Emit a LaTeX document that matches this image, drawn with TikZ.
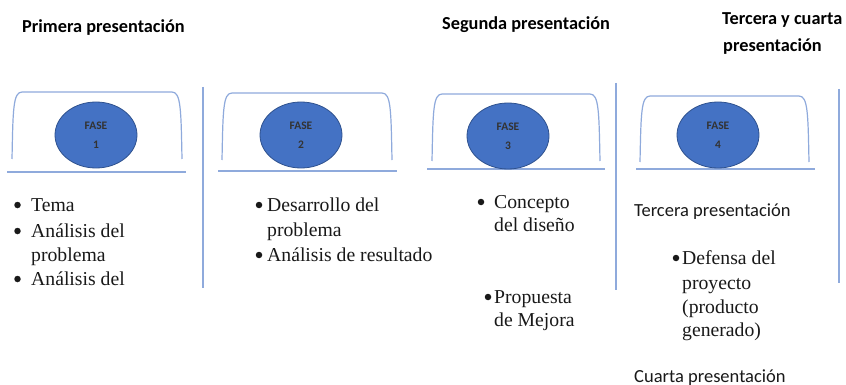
\documentclass[tikz,border=0pt]{standalone}
\usepackage{fontspec}
\usetikzlibrary{shapes.geometric}
\setmainfont{Liberation Serif}
\newfontfamily\calfont{Carlito}
\definecolor{brk}{RGB}{143,170,220}
\definecolor{efill}{RGB}{68,114,196}
\definecolor{edraw}{RGB}{47,82,143}
\definecolor{txt}{RGB}{25,25,25}
\begin{document}
\begin{tikzpicture}[x=1pt,y=-1pt,
  ttl/.style={anchor=base west,inner sep=0pt,font=\calfont\bfseries\fontsize{18.3}{20}\selectfont,text=black},
  sub/.style={anchor=base west,inner sep=0pt,font=\calfont\fontsize{18.5}{21}\selectfont,text=txt},
  itm/.style={anchor=base west,inner sep=0pt,font=\fontsize{19.7}{23}\selectfont,text=txt},
  bul/.style={circle,fill=txt,inner sep=0pt,minimum size=6.5pt},
  fase/.style={ellipse,draw=edraw,line width=0.8pt,fill=efill,minimum width=82pt,minimum height=66pt,inner sep=0pt,align=center,font=\calfont\bfseries\fontsize{11.5}{19}\selectfont,text=black!80},
  brkline/.style={draw=brk,line width=1.2pt},
]
\useasboundingbox (0,0) rectangle (846,385);
\fill[white] (0,0) rectangle (846,385);
% titles
\node[ttl] (t1) at (22,33) {Primera presentación};
\node[ttl] (t2) at (442,30) {Segunda presentación};
\node[ttl] (t3) at (722,25) {Tercera y cuarta};
\node[ttl] (t3b) at (723,52) {presentación};
% separators
\draw[brkline] (203,87) -- (203,288);
\draw[brkline] (616,83) -- (616,290);
\draw[brkline] (839,89) -- (839,283);
% brackets
\draw[brkline] (12,159) .. controls (13,110) and (13,92) .. (22,92) -- (172,92) .. controls (181,92) and (181,110) .. (182,159);
\draw[brkline] (7,172) -- (186,172);
\draw[brkline] (222,160) .. controls (223,110) and (223,93) .. (232,93) -- (382,93) .. controls (391,93) and (391,110) .. (392,160);
\draw[brkline] (218,171) -- (397,171);
\draw[brkline] (432,161) .. controls (433,112) and (433,94) .. (442,94) -- (590,94) .. controls (599,94) and (599,112) .. (600,161);
\draw[brkline] (427,169) -- (605,169);
\draw[brkline] (640,162) .. controls (641,114) and (641,96) .. (650,96) -- (799,96) .. controls (808,96) and (808,114) .. (809,162);
\draw[brkline] (636,169) -- (815,169);
% ellipses
\node[fase] (f1) at (96,135) {FASE\\1};
\node[fase] (f2) at (301,135) {FASE\\2};
\node[fase] (f3) at (508,136) {FASE\\3};
\node[fase] (f4) at (718,135) {FASE\\4};
% panel 1
\node[bul] (b1a) at (17.5,205) {};
\node[itm] (p1a) at (31,211) {Tema};
\node[bul] (b1b) at (17.5,231) {};
\node[itm] (p1b) at (31,237) {Análisis del};
\node[itm] (p1c) at (31,261) {problema};
\node[bul] (b1c) at (17.5,279) {};
\node[itm] (p1d) at (31,285) {Análisis del};
% panel 2
\node[bul] (b2a) at (259,205) {};
\node[itm] (p2a) at (267,211) {Desarrollo del};
\node[itm] (p2b) at (267,236) {problema};
\node[bul] (b2b) at (259,255) {};
\node[itm] (p2c) at (267,261) {Análisis de resultado};
% panel 3
\node[bul] (b3a) at (481,202) {};
\node[itm] (p3a) at (494,208) {Concepto};
\node[itm] (p3b) at (494,231) {del diseño};
\node[bul] (b3b) at (488,297) {};
\node[itm] (p3c) at (494,303) {Propuesta};
\node[itm] (p3d) at (494,326) {de Mejora};
% panel 4
\node[sub] (s4a) at (634,216) {Tercera presentación};
\node[bul] (b4a) at (676,258) {};
\node[itm] (p4a) at (682,264) {Defensa del};
\node[itm] (p4b) at (682,289) {proyecto};
\node[itm] (p4c) at (682,313) {(producto};
\node[itm] (p4d) at (682,336) {generado)};
\node[sub] (s4b) at (634,382) {Cuarta presentación};
\end{tikzpicture}
\end{document}
